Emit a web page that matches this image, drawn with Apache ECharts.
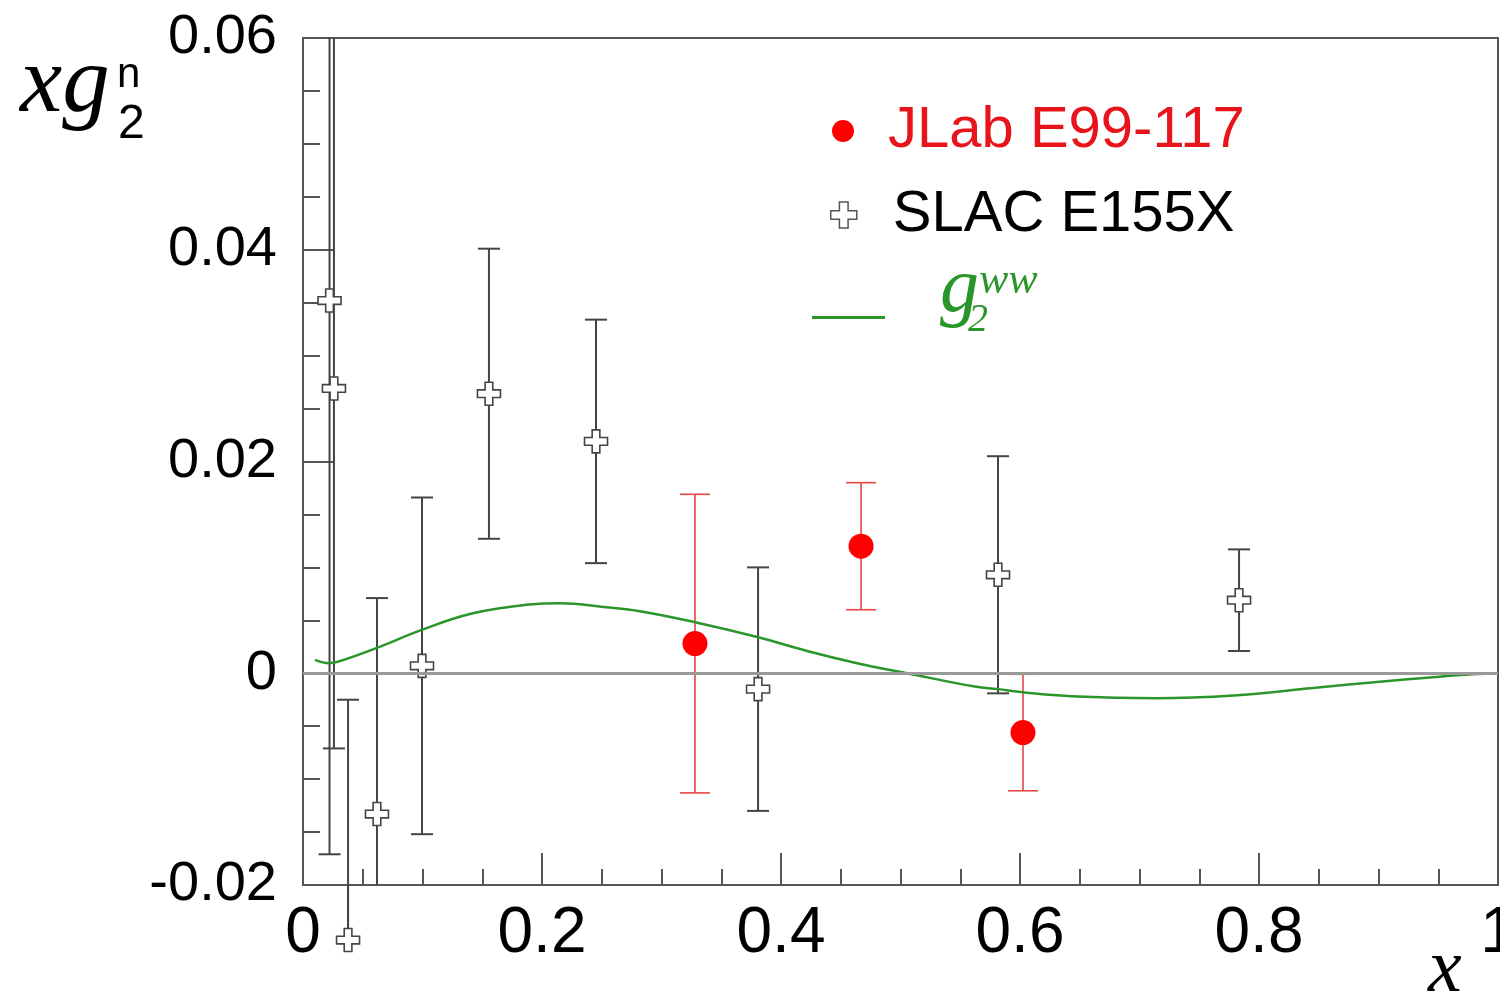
<!DOCTYPE html>
<html>
<head>
<meta charset="utf-8">
<script src="https://cdn.jsdelivr.net/npm/echarts@6/dist/echarts.min.js"></script>
<style>
html,body{margin:0;padding:0;background:#fff;}
#chart{width:1500px;height:1005px;}
</style>
</head>
<body>
<div id="chart"></div>
<script>
// ---- data ----
const slacX   = [0.0222, 0.0259, 0.0377, 0.0619, 0.0996, 0.1556, 0.2452, 0.3808, 0.5816, 0.7833];
const slacY   = [0.0352, 0.0269, -0.0252, -0.0133, 0.0007, 0.0264, 0.0219, -0.0015, 0.0093, 0.0069];
const slacErr = [0.0523, 0.0340, 0.0227, 0.0204, 0.0159, 0.0137, 0.0115, 0.0115, 0.0112, 0.0048];

const jlabX   = [0.328, 0.467, 0.6025];
const jlabY   = [0.0028, 0.0120, -0.0056];
const jlabErr = [0.0141, 0.0060, 0.0055];

const g2wwX = [0.010, 0.0218, 0.029, 0.062, 0.0987, 0.1414, 0.190, 0.215, 0.2536, 0.282, 0.329, 0.381,
               0.4218, 0.4636, 0.5054, 0.5607, 0.5816, 0.6025, 0.648, 0.714, 0.779, 0.845, 0.901, 0.943, 0.979, 1.0];
const g2wwY = [0.00127, 0.00095, 0.00108, 0.0024, 0.00407, 0.00564, 0.0065, 0.00662, 0.00624, 0.00586, 0.0048, 0.0034,
               0.0021, 0.00095, 0.0, -0.00123, -0.0015, -0.0018, -0.0022, -0.00236, -0.0021, -0.0014, -0.0008, -0.0004, -0.0001, 0.0];

const xTickLabels = ['0', '0.2', '0.4', '0.6', '0.8', '1'];
const yTickLabels = ['-0.02', '0', '0.02', '0.04', '0.06'];

const CROSS = 'path://M8,0L16,0L16,8L24,8L24,16L16,16L16,24L8,24L8,16L0,16L0,8L8,8Z';

// ---- helpers ----
function pts(xs, ys) { return xs.map((x, i) => [x, ys[i]]); }
function errData(xs, ys, es) { return xs.map((x, i) => [x, ys[i], ys[i] - es[i], ys[i] + es[i]]); }

function errorBarRender(color, width, capHalf) {
  return function (params, api) {
    const x = api.value(0), y = api.value(1), lo = api.value(2), hi = api.value(3);
    const c = api.coord([x, y]);
    const cTop = api.coord([x, hi]);
    const cBot = api.coord([x, lo]);
    const cs = params.coordSys;
    const yMin = cs.y, yMax = cs.y + cs.height;
    const clamp = v => Math.max(yMin, Math.min(yMax, v));
    const tY = clamp(cTop[1]), bY = clamp(cBot[1]);
    const style = { stroke: color, lineWidth: width };
    const ch = [
      { type: 'line', shape: { x1: c[0], y1: c[1], x2: c[0], y2: tY }, style: style },
      { type: 'line', shape: { x1: c[0], y1: c[1], x2: c[0], y2: bY }, style: style }
    ];
    if (tY === cTop[1]) ch.push({ type: 'line', shape: { x1: c[0] - capHalf, y1: tY, x2: c[0] + capHalf, y2: tY }, style: style });
    if (bY === cBot[1]) ch.push({ type: 'line', shape: { x1: c[0] - capHalf, y1: bY, x2: c[0] + capHalf, y2: bY }, style: style });
    return { type: 'group', children: ch };
  };
}

const chart = echarts.init(document.getElementById('chart'), null, { renderer: 'canvas' });
const SANS = '"Liberation Sans", Arial, sans-serif';
const SERIF = '"Liberation Serif", "Times New Roman", serif';
const GREEN = '#2a962a';
const AXIS = '#555';

const option = {
  animation: false,
  backgroundColor: '#fff',
  grid: {
    left: 303, top: 38, right: 2, bottom: 120, containLabel: false, outerBoundsMode: 'none',
    show: true, borderColor: AXIS, borderWidth: 2, backgroundColor: 'transparent'
  },
  xAxis: {
    type: 'value', min: 0, max: 1, interval: 0.2,
    axisLine: { show: true, onZero: false, lineStyle: { color: AXIS, width: 2 } },
    axisTick: { show: true, inside: true, length: 32, lineStyle: { color: AXIS, width: 2 } },
    minorTick: { show: true, splitNumber: 4, length: 16, lineStyle: { color: AXIS, width: 2 } },
    splitLine: { show: false },
    axisLabel: {
      margin: 17, color: '#000', fontSize: 64, fontFamily: SANS, showMinLabel: true, showMaxLabel: true,
      formatter: v => xTickLabels[Math.round(v / 0.2)]
    }
  },
  yAxis: {
    type: 'value', min: -0.02, max: 0.06, interval: 0.02,
    axisLine: { show: true, onZero: false, lineStyle: { color: AXIS, width: 2 } },
    axisTick: { show: true, inside: true, length: 32, lineStyle: { color: AXIS, width: 2 } },
    minorTick: { show: true, splitNumber: 4, length: 17, lineStyle: { color: AXIS, width: 2 } },
    splitLine: { show: false },
    axisLabel: {
      margin: 26, color: '#000', fontSize: 56, fontFamily: SANS, showMinLabel: true, showMaxLabel: true,
      formatter: v => yTickLabels[Math.round((v + 0.02) / 0.02)]
    }
  },
  legend: [
    {
      left: 832, top: 102, padding: 0, itemWidth: 22, itemHeight: 22,
      data: [{ name: 'JLab E99-117', icon: 'circle', itemStyle: { color: '#f00' }, textStyle: { color: '#e8141b' } }],
      textStyle: { fontSize: 58, fontFamily: SANS, padding: [0, 0, 0, 29] },
      selectedMode: false
    },
    {
      left: 830, top: 186, padding: 0, itemWidth: 26, itemHeight: 26,
      data: [{ name: 'SLAC E155X', icon: CROSS, itemStyle: { color: '#fff', borderColor: '#555', borderWidth: 1.5 }, textStyle: { color: '#000' } }],
      textStyle: { fontSize: 58, fontFamily: SANS, padding: [0, 0, 0, 31] },
      selectedMode: false
    },
    {
      left: 812, top: 316, padding: 0, itemWidth: 73, itemHeight: 3,
      data: [{ name: 'g2ww', icon: 'rect', itemStyle: { color: GREEN } }],
      formatter: () => '',
      textStyle: { fontSize: 10 },
      selectedMode: false
    }
  ],
  graphic: [
    { type: 'text', x: 20, y: 86, style: { text: 'xg', font: 'italic 95px ' + SERIF, fill: '#000', align: 'left', verticalAlign: 'middle' } },
    { type: 'text', x: 117, y: 75.5, style: { text: 'n', font: '42px ' + SANS, fill: '#000', align: 'left', verticalAlign: 'middle' } },
    { type: 'text', x: 118, y: 125, style: { text: '2', font: '48px ' + SANS, fill: '#000', align: 'left', verticalAlign: 'middle' } },
    { type: 'text', x: 940, y: 290, style: { text: 'g', font: 'italic 78px ' + SERIF, fill: GREEN, align: 'left', verticalAlign: 'middle' } },
    { type: 'text', x: 979, y: 281, style: { text: 'ww', font: 'italic 44px ' + SERIF, fill: GREEN, align: 'left', verticalAlign: 'middle' } },
    { type: 'text', x: 968, y: 320, style: { text: '2', font: 'italic 40px ' + SERIF, fill: GREEN, align: 'left', verticalAlign: 'middle' } },
    { type: 'text', x: 1428, y: 971, style: { text: 'x', font: 'italic 76px ' + SERIF, fill: '#000', align: 'left', verticalAlign: 'middle' } }
  ],
  series: [
    {
      name: 'zero', type: 'line', data: [], z: 1, silent: true,
      markLine: {
        silent: true, symbol: ['none', 'none'], label: { show: false },
        lineStyle: { color: '#9a9a9a', width: 3, type: 'solid' },
        data: [{ yAxis: 0 }]
      }
    },
    {
      name: 'SLAC err', type: 'custom', z: 2, clip: false,
      renderItem: errorBarRender('#444', 2, 11),
      encode: { x: 0, y: 1 },
      data: errData(slacX, slacY, slacErr)
    },
    {
      name: 'JLab err', type: 'custom', z: 2, clip: false,
      renderItem: errorBarRender('#e54545', 1.6, 15),
      encode: { x: 0, y: 1 },
      data: errData(jlabX, jlabY, jlabErr)
    },
    {
      name: 'g2ww', type: 'line', z: 3, smooth: 0.4, showSymbol: false, symbol: 'none',
      lineStyle: { color: GREEN, width: 2.5 }, itemStyle: { color: GREEN },
      data: pts(g2wwX, g2wwY)
    },
    {
      name: 'SLAC E155X', type: 'scatter', z: 4, clip: false,
      symbol: CROSS, symbolSize: 23,
      itemStyle: { color: '#fff', borderColor: '#444', borderWidth: 1.6, opacity: 1 },
      data: pts(slacX, slacY)
    },
    {
      name: 'JLab E99-117', type: 'scatter', z: 4, clip: false,
      symbol: 'circle', symbolSize: 25,
      itemStyle: { color: '#f00', opacity: 1 },
      data: pts(jlabX, jlabY)
    }
  ]
};
chart.setOption(option);
</script>
</body>
</html>
